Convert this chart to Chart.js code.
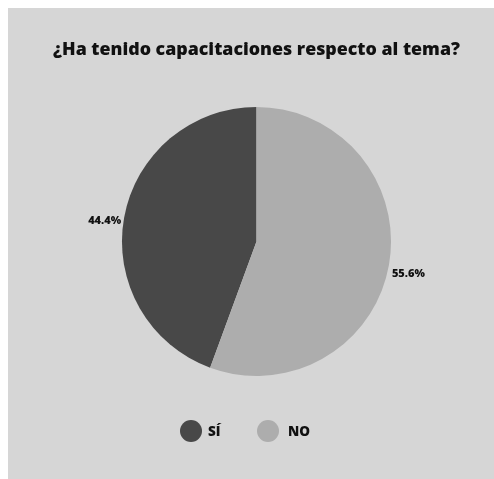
<!DOCTYPE html>
<html>
<head>
<meta charset="utf-8">
<script src="https://cdn.jsdelivr.net/npm/chart.js@4"></script>
<style>
  html, body { margin: 0; padding: 0; background: #fff; }
  #panel { position: absolute; left: 8px; top: 8px; width: 486px; height: 471px; background: #d6d6d6; }
  canvas { display: block; }
</style>
</head>
<body>
<div id="panel"><canvas id="chart" width="486" height="471"></canvas></div>
<script>
// Survey answers
const labels = ['SÍ', 'NO'];
const percents = [44.4, 55.6];
const colors = ['#484848', '#adadad'];

const FONT = "'Open Sans', 'Noto Sans', sans-serif";

// Percent labels just outside each slice (right side sits a bit lower)
const outsideLabels = {
  id: 'outsideLabels',
  afterDatasetsDraw(chart) {
    const ctx = chart.ctx;
    const meta = chart.getDatasetMeta(0);
    ctx.save();
    ctx.font = `800 11px ${FONT}`;
    ctx.fillStyle = '#111';
    ctx.textBaseline = 'middle';
    meta.data.forEach((arc, i) => {
      const { x, y, startAngle, endAngle, outerRadius } = arc.getProps(['x', 'y', 'startAngle', 'endAngle', 'outerRadius'], true);
      const mid = (startAngle + endAngle) / 2;
      const r = outerRadius + 3;
      const left = Math.cos(mid) < 0;
      const px = x + Math.cos(mid) * r;
      const py = y + Math.sin(mid) * r + (left ? 3 : 8);
      ctx.textAlign = left ? 'right' : 'left';
      ctx.fillText(chart.data.datasets[0].data[i].toFixed(1) + '%', px, py);
    });
    ctx.restore();
  }
};

// Round-marker legend under the pie
const dotLegend = {
  id: 'dotLegend',
  afterDraw(chart) {
    const ctx = chart.ctx;
    const ds = chart.data.datasets[0];
    const xs = [183, 260];
    const y = 423;
    ctx.save();
    ctx.font = `800 13.5px ${FONT}`;
    ctx.textBaseline = 'middle';
    ctx.textAlign = 'left';
    chart.data.labels.forEach((lab, i) => {
      ctx.fillStyle = ds.backgroundColor[i];
      ctx.beginPath();
      ctx.arc(xs[i], y, 11, 0, Math.PI * 2);
      ctx.fill();
      ctx.fillStyle = '#111';
      ctx.fillText(lab, xs[i] + 17 + (i ? 3 : 0), y + 1);
    });
    ctx.restore();
  }
};

new Chart(document.getElementById('chart'), {
  type: 'pie',
  data: {
    labels,
    datasets: [{
      data: percents,
      backgroundColor: colors,
      borderWidth: 0
    }]
  },
  options: {
    responsive: false,
    animation: false,
    rotation: percents[1] / 100 * 360,
    layout: { padding: { left: 11, right: 0, top: 0, bottom: 103 } },
    plugins: {
      legend: { display: false },
      tooltip: { enabled: false },
      title: {
        display: true,
        text: '¿Ha tenido capacitaciones respecto al tema?',
        color: '#111',
        font: { family: FONT, size: 17.8, weight: '800', lineHeight: 1.2 },
        padding: { top: 31.3, bottom: 46.3 }
      }
    }
  },
  plugins: [outsideLabels, dotLegend]
});
</script>
</body>
</html>
